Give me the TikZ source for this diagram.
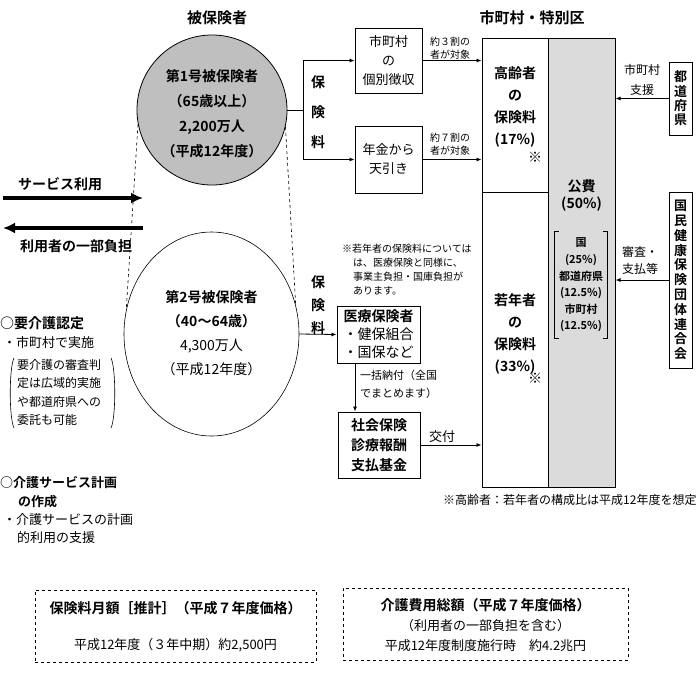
\documentclass[tikz,border=0pt]{standalone}
\usepackage{fontspec}
\setmainfont{Noto Sans CJK JP}[BoldFont={Noto Sans CJK JP Bold}]
\usetikzlibrary{arrows.meta,shapes.geometric}
\begin{document}
\begin{tikzpicture}[x=1pt,y=-1pt,
  box/.style={draw,line width=1pt,inner sep=0pt,align=center},
  col/.style={draw,line width=1pt,inner sep=0pt},
  arr/.style={line width=0.8pt,-{Latex[length=5pt,width=4pt]}},
  bigarr/.style={line width=4pt,-{Latex[length=12pt,width=11pt]}},
  dbox/.style={draw,line width=1pt,dash pattern=on 3pt off 3pt,inner sep=0pt},
  ttl/.style={font=\fontsize{15}{18}\selectfont\bfseries},
  bl/.style={font=\fontsize{14}{#1}\selectfont\bfseries,align=center,inner sep=0pt},
  bl/.default=22,
  rg/.style={font=\fontsize{13}{#1}\selectfont,align=center,inner sep=0pt},
  rg/.default=19,
  sm/.style={font=\fontsize{10}{#1}\selectfont,align=center,inner sep=0pt},
  sm/.default=13,
  lft/.style={anchor=west,align=left}
]
\useasboundingbox (0,0) rectangle (700,681);

% titles
\node[ttl] (t1) at (217,18) {被保険者};
\node[ttl] (t2) at (532,18) {市町村・特別区};

% insured circles
\node[circle,draw,line width=0.8pt,fill=gray!50,minimum size=150pt,inner sep=0pt] (c1) at (212,110) {};
\node[bl=25] (c1t) at (212,114) {第1号被保険者\\（65歳以上）\\2,200万人\\（平成12年度）};
\node[ellipse,draw,line width=0.6pt,minimum width=175pt,minimum height=204pt,inner sep=0pt] (c2) at (211.5,334) {};
\node[font=\fontsize{14}{24}\selectfont,align=center,inner sep=0pt] (c2t) at (211.5,333)
  {\textbf{第2号被保険者}\\\textbf{（40～64歳）}\\4,300万人\\（平成12年度）};
\draw[dashed,line width=0.6pt] (c1.191) -- (c2.164);
\draw[dashed,line width=0.6pt] (c1.347) -- (c2.19);

% left side
\coordinate (a1s) at (3,198);
\coordinate (a1e) at (143,198);
\coordinate (a2s) at (143,228);
\coordinate (a2e) at (3,228);
\draw[bigarr] (a1s) -- (a1e);
\draw[bigarr] (a2s) -- (a2e);
\node[bl] (s1) at (60,184) {サービス利用};
\node[bl] (s2) at (76,246) {利用者の一部負担};
\node[bl,lft] (k1) at (0,323) {○要介護認定};
\node[rg,lft] (k2) at (3,343) {・市町村で実施};
\node[font=\fontsize{12}{18.5}\selectfont,lft,inner sep=0pt] (k3) at (17,392.5)
  {要介護の審査判\\定は広域的実施\\や都道府県への\\委託も可能};
\draw[line width=0.6pt] (14,358) .. controls (9,368) and (9,418) .. (14,428);
\draw[line width=0.6pt] (111,358) .. controls (116,368) and (116,418) .. (111,428);
\node[font=\fontsize{13}{19}\selectfont\bfseries,lft,inner sep=0pt] (k4) at (0,492.5)
  {○介護サービス計画\\\hspace*{18pt}の作成};
\node[font=\fontsize{13}{18}\selectfont,lft,inner sep=0pt] (k5) at (3,529)
  {・介護サービスの計画\\\hspace*{14pt}的利用の支援};

% upper middle flow
\coordinate (br) at (303,110);
\draw[line width=0.8pt] (c1.east) -- (br);
\node[box,minimum width=67pt,minimum height=65pt,font=\fontsize{13}{19}\selectfont] (b1) at (388.5,60.5) {市町村\\の\\個別徴収};
\node[box,minimum width=67pt,minimum height=67pt,font=\fontsize{13}{19}\selectfont] (b2) at (388.5,159.5) {年金から\\天引き};
\draw[arr] (br) |- (b1);
\draw[arr] (br) |- (b2);
\node[bl=30] (p1) at (318,112) {保\\険\\料};

% columns
\node[col,minimum width=66pt,minimum height=154pt] (L1) at (515,115) {};
\node[col,minimum width=66pt,minimum height=295pt] (L2) at (515,339.5) {};
\node[col,fill=gray!28,minimum width=67pt,minimum height=449pt] (R) at (581.5,262.5) {};
\node[bl=22] (L1t) at (515,106.5) {高齢者\\の\\保険料\\(17\%)};
\node[bl] (L1s) at (535,157) {※};
\node[bl=22] (L2t) at (515,333.5) {若年者\\の\\保険料\\(33\%)};
\node[bl] (L2s) at (535,378) {※};
\node[bl=17] (Rt) at (581.5,195) {公費\\(50\%)};
\node[font=\fontsize{11}{16.6}\selectfont\bfseries,align=center,inner sep=0pt,minimum width=52pt,minimum height=106pt] (B) at (581,285)
  {国\\(25\%)\\都道府県\\(12.5\%)\\市町村\\(12.5\%)};
\draw[line width=0.8pt] ([xshift=4pt]B.north west) -- (B.north west) -- (B.south west) -- ([xshift=4pt]B.south west);
\draw[line width=0.8pt] ([xshift=-4pt]B.north east) -- (B.north east) -- (B.south east) -- ([xshift=-4pt]B.south east);

\draw[arr] (b1.east) -- (b1.east -| L1.west);
\draw[arr] (b2.east) -- (b2.east -| L1.west);
\node[sm] (n1) at (450,48) {約３割の\\者が対象};
\node[sm] (n2) at (450,144) {約７割の\\者が対象};

% right boxes
\node[box,minimum width=23pt,minimum height=73pt,font=\fontsize{13}{14.3}\selectfont\bfseries] (P) at (680.5,98.5) {都\\道\\府\\県};
\node[box,minimum width=23pt,minimum height=176pt,font=\fontsize{13}{14.8}\selectfont\bfseries] (K) at (680.5,280) {国\\民\\健\\康\\保\\険\\団\\体\\連\\合\\会};
\draw[arr] (P.west) -- (P.west -| R.east);
\draw[arr] (K.west) -- (K.west -| R.east);
\node[font=\fontsize{12}{20}\selectfont,align=center,inner sep=0pt] (pl) at (642,80) {市町村\\支援};
\node[font=\fontsize{12}{17}\selectfont,align=center,inner sep=0pt] (kl) at (640,260) {審査・\\支払等};

% lower middle flow
\node[sm=14,lft] (note) at (342,270)
  {※若年者の保険料については\\\hspace*{11pt}は、医療保険と同様に、\\\hspace*{11pt}事業主負担・国庫負担が\\\hspace*{11pt}あります。};
\node[bl=23] (p2) at (318,305) {保\\険\\料};
\node[box,minimum width=83pt,minimum height=57pt,align=left,font=\fontsize{14}{18}\selectfont] (m1) at (378.5,334.5)
  {\textbf{医療保険者}\\・健保組合\\・国保など};
\node[box,minimum width=82pt,minimum height=66pt,font=\fontsize{14}{20}\selectfont\bfseries] (m2) at (379,445) {社会保険\\診療報酬\\支払基金};
\draw[arr] (c2.east) -- (m1.west);
\coordinate (v) at (355,390);
\draw[arr] (m1.south -| v) -- (m2.north -| v);
\node[font=\fontsize{11}{18}\selectfont,lft,inner sep=0pt] (m12) at (360,384) {一括納付（全国\\でまとめます）};
\draw[arr] (m2.east) -- (m2.east -| L2.west);
\node[rg] (kf) at (442,437) {交付};

\node[font=\fontsize{12}{14}\selectfont,lft,inner sep=0pt] (foot) at (443,500) {※高齢者：若年者の構成比は平成12年度を想定};

% bottom boxes
\node[dbox,minimum width=281pt,minimum height=72pt] (D1) at (175.5,626) {};
\node[bl] (D1a) at (175.5,608) {保険料月額［推計］（平成７年度価格）};
\node[rg] (D1b) at (175.5,645) {平成12年度（３年中期）約2,500円};
\node[dbox,minimum width=285pt,minimum height=72pt] (D2) at (485.5,624) {};
\node[bl] (D2a) at (485.5,605) {介護費用総額（平成７年度価格）};
\node[rg] (D2b) at (485.5,626) {（利用者の一部負担を含む）};
\node[rg] (D2c) at (485.5,646) {平成12年度制度施行時　約4.2兆円};
\end{tikzpicture}
\end{document}
